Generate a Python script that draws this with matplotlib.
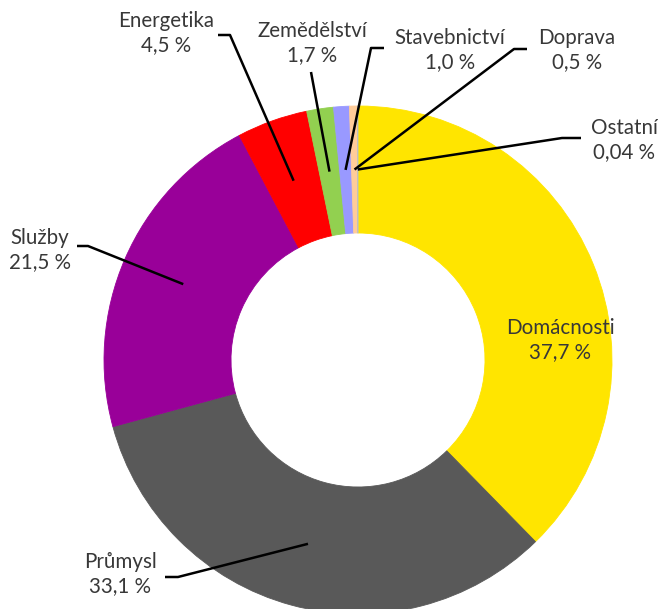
import numpy as np
import matplotlib.pyplot as plt

plt.rcParams['font.family'] = ['Lato', 'DejaVu Sans']

# podíly spotřeby podle sektorů (%)
sectors = ['Domácnosti', 'Průmysl', 'Služby', 'Energetika', 'Zemědělství',
           'Stavebnictví', 'Doprava', 'Ostatní']
shares = [37.7, 33.1, 21.5, 4.5, 1.7, 1.0, 0.5, 0.04]
share_labels = ['37,7 %', '33,1 %', '21,5 %', '4,5 %', '1,7 %', '1,0 %', '0,5 %', '0,04 %']
colors = ['#FFE500', '#595959', '#990099', '#FF0000', '#92D050',
          '#9999FF', '#FFCC99', '#C0C0C0']

W, H = 658, 609
CX, CY, R = 358, 360, 254


def px(x, y):
    # pixelové souřadnice -> data (poloměr prstence = 1)
    return (x - CX) / R, (CY - y) / R


# pozice popisků (střed textu) a body přípojných čar v pixelech
label_pos = {
    'Domácnosti': (560, 340),
    'Průmysl': (120, 574),
    'Služby': (40, 250),
    'Energetika': (166, 33),
    'Zemědělství': (312, 43),
    'Stavebnictví': (450, 50),
    'Doprava': (577, 50),
    'Ostatní': (624, 140),
}
leader_pts = {
    'Průmysl': [(165, 577), (178, 577)],
    'Služby': [(77, 246), (88, 246)],
    'Energetika': [(218, 35), (230, 35)],
    'Zemědělství': [(311, 72)],
    'Stavebnictví': [(384, 48), (371, 48)],
    'Doprava': [(527, 49), (514, 49)],
    'Ostatní': [(581, 138), (562, 138)],
}

fig = plt.figure(figsize=(W / 100, H / 100), dpi=100)
ax = fig.add_axes([0, 0, 1, 1])

wedges, _ = ax.pie(shares, colors=colors, startangle=90, counterclock=False,
                   radius=1, wedgeprops=dict(width=0.5, linewidth=0.6))
for w in wedges:
    w.set_edgecolor(w.get_facecolor())

for name, wedge, lab in zip(sectors, wedges, share_labels):
    tx, ty = px(*label_pos[name])
    ax.text(tx, ty, f'{name}\n{lab}', ha='center', va='center', fontsize=14.8,
            color='#383838', linespacing=1.3)
    if name in leader_pts:
        mid = np.deg2rad((wedge.theta1 + wedge.theta2) / 2)
        pts = [px(x, y) for x, y in leader_pts[name]]
        pts.append((0.75 * np.cos(mid), 0.75 * np.sin(mid)))
        xs, ys = zip(*pts)
        ax.plot(xs, ys, color='black', lw=1.8, solid_capstyle='butt')

ax.set_xlim(-CX / R, (W - CX) / R)
ax.set_ylim((CY - H) / R, CY / R)
ax.set_aspect('equal')
ax.axis('off')

fig.savefig('out.png', dpi=100)
